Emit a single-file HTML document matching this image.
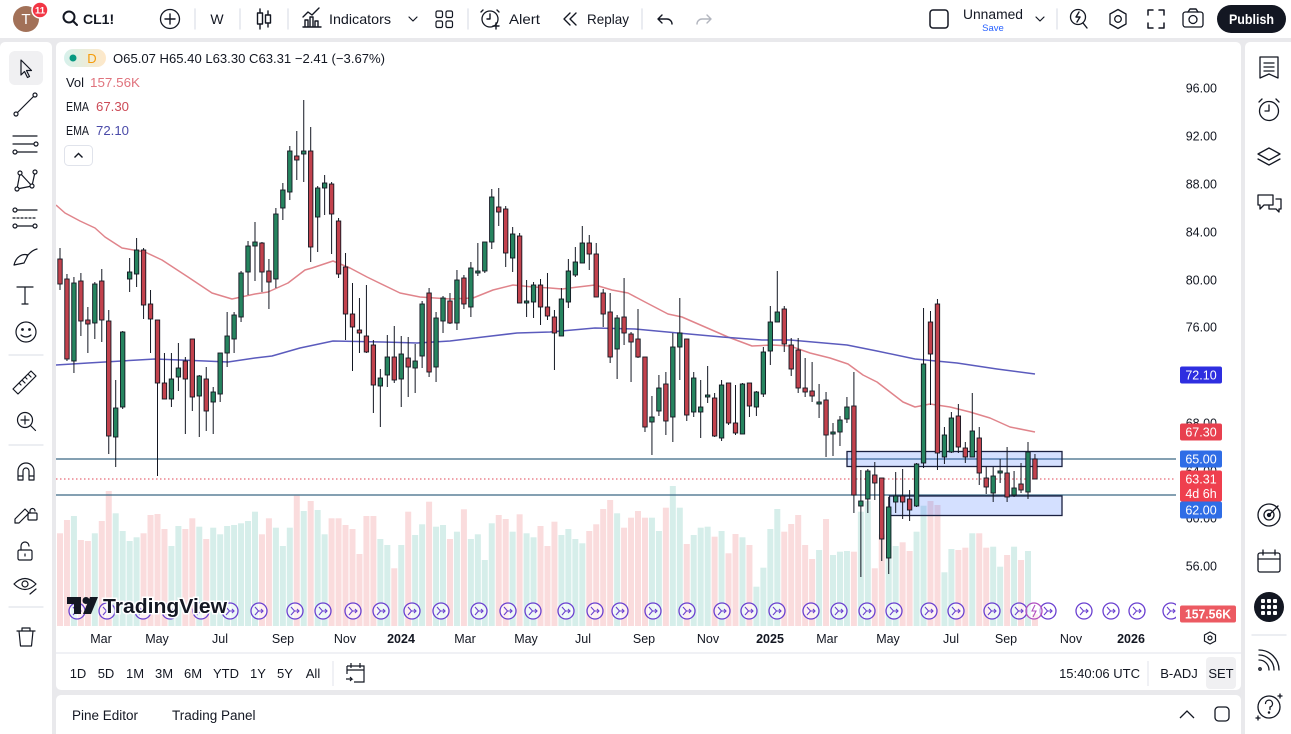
<!DOCTYPE html>
<html><head><meta charset="utf-8">
<style>
html,body{margin:0;padding:0;width:1291px;height:734px;overflow:hidden;background:#e9e9ec;}
svg{display:block;font-family:"Liberation Sans",sans-serif;}
</style></head><body>
<svg width="1291" height="734" viewBox="0 0 1291 734" xmlns="http://www.w3.org/2000/svg">
<defs>
<linearGradient id="pill" x1="0" x2="1" y1="0" y2="0"><stop offset="0" stop-color="#d6f1ec"/><stop offset="1" stop-color="#ffe8c8"/></linearGradient>
<clipPath id="plot"><rect x="56" y="42" width="1120" height="584"/></clipPath>
</defs>
<rect width="1291" height="734" fill="#e9e9ec"/>
<!-- panels -->
<rect x="0" y="0" width="1291" height="38" fill="#fff"/>
<rect x="0" y="42" width="52" height="700" rx="5" fill="#fff"/>
<rect x="56" y="42" width="1185" height="648" rx="5" fill="#fff"/>
<rect x="56" y="695" width="1185" height="50" rx="5" fill="#fff"/>
<rect x="1245" y="42" width="50" height="700" rx="5" fill="#fff"/>

<!-- ===== TOP BAR ===== -->
<g fill="none" stroke="#131722" stroke-width="1.4" stroke-linecap="round" stroke-linejoin="round">
<circle cx="26" cy="19" r="13" fill="#a27158" stroke="none"/>
<circle cx="40" cy="10" r="8" fill="#f23645" stroke="#fff" stroke-width="1.5"/>
<circle cx="69" cy="17" r="5.5" stroke-width="2"/><line x1="73" y1="21" x2="77" y2="25" stroke-width="2"/>
<circle cx="170" cy="19" r="9.5" stroke-width="1.3"/><line x1="165" y1="19" x2="175" y2="19"/><line x1="170" y1="14" x2="170" y2="24"/>
<line x1="195" y1="9" x2="195" y2="29" stroke="#e0e3eb"/>
<line x1="240" y1="9" x2="240" y2="29" stroke="#e0e3eb"/>
<line x1="260" y1="9" x2="260" y2="29"/><rect x="257.5" y="13" width="5" height="11" fill="#fff"/>
<line x1="268" y1="11" x2="268" y2="27"/><rect x="265.5" y="15" width="5" height="8" fill="#fff"/>
<line x1="288" y1="9" x2="288" y2="29" stroke="#e0e3eb"/>
<path d="M303,27 h18 M305,26 v-6 h3 v6 M310,26 v-9 h3 v9 M315,26 v-5 h3 v5 M303,17 l5,-5 l4,3 l7,-7"/>
<path d="M409,17 l4,4 l4,-4" stroke-width="1.2"/>
<rect x="436" y="11" width="6.5" height="6.5" rx="1.5" stroke-width="1.2"/><rect x="446" y="11" width="6.5" height="6.5" rx="1.5" stroke-width="1.2"/>
<rect x="436" y="21" width="6.5" height="6.5" rx="1.5" stroke-width="1.2"/><rect x="446" y="21" width="6.5" height="6.5" rx="1.5" stroke-width="1.2"/>
<line x1="468" y1="9" x2="468" y2="29" stroke="#e0e3eb"/>
<circle cx="490" cy="19" r="8" stroke-width="1.3"/><path d="M490,14 v5 h-3 M483,10 l-2,2 M497,10 l2,2 M493,26 h6 M496,23 v6"/>
<path d="M576,13 l-6,6 l6,6 M570,13 l-6,6 l6,6"/>
<line x1="642" y1="9" x2="642" y2="29" stroke="#e0e3eb"/>
<path d="M662,15 l-4,4 l4,4 M658,19 h9 a5,5 0 0 1 5,5"/>
<path d="M707,15 l4,4 l-4,4 M711,19 h-9 a5,5 0 0 0 -5,5" stroke="#b2b5be"/>
<rect x="930" y="10" width="18" height="18" rx="3" stroke-width="1.5"/>
<path d="M1036,17 l4,4 l4,-4" stroke-width="1.2"/>
<line x1="1057" y1="9" x2="1057" y2="29" stroke="#e0e3eb"/>
<circle cx="1078" cy="17" r="7.5" stroke-width="1.3"/><path d="M1079,12 l-3,5 h4 l-3,5 M1083,23 l4,5"/>
<path d="M1118,9.5 l8,4.5 v10 l-8,4.5 l-8,-4.5 v-10 z" stroke-width="1.3"/><circle cx="1118" cy="19" r="3.3" stroke-width="1.3"/>
<path d="M1148,15 v-5 h5 M1159,10 h5 v5 M1164,23 v5 h-5 M1153,28 h-5 v-5" stroke-width="1.5"/>
<rect x="1183" y="12" width="20" height="15" rx="2.5" stroke-width="1.3"/><circle cx="1193" cy="19.5" r="4" stroke-width="1.3"/><path d="M1188,12 l2,-3 h6 l2,3"/>
</g>
<text x="26" y="24" fill="#fff" font-size="15" text-anchor="middle">T</text>
<text x="40" y="13.5" fill="#fff" font-size="9.5" text-anchor="middle" font-weight="bold">11</text>
<text x="83" y="24" fill="#131722" font-size="14" font-weight="bold">CL1!</text>
<text x="217" y="24" fill="#131722" font-size="14" text-anchor="middle">W</text>
<text x="329" y="24" fill="#131722" font-size="14" textLength="62" lengthAdjust="spacingAndGlyphs">Indicators</text>
<text x="509" y="24" fill="#131722" font-size="14" textLength="31" lengthAdjust="spacingAndGlyphs">Alert</text>
<text x="587" y="24" fill="#131722" font-size="14" textLength="42" lengthAdjust="spacingAndGlyphs">Replay</text>
<text x="963" y="19" fill="#131722" font-size="13.5" textLength="60" lengthAdjust="spacingAndGlyphs">Unnamed</text>
<text x="993" y="31" fill="#2962ff" font-size="9.5" text-anchor="middle">Save</text>
<rect x="1217" y="5" width="69" height="28" rx="14" fill="#131722"/>
<text x="1251.5" y="24" fill="#fff" font-size="14" font-weight="bold" text-anchor="middle" textLength="45" lengthAdjust="spacingAndGlyphs">Publish</text>

<!-- ===== LEFT TOOLBAR ===== -->
<rect x="9" y="51" width="34" height="34" rx="6" fill="#f0f0f2"/>
<g fill="none" stroke="#131722" stroke-width="1.2" stroke-linecap="round" stroke-linejoin="round">
<path d="M21,60 l0,15 l3.5,-3.5 l3,6 l2,-1 l-3,-6 l5,0 z"/>
<line x1="17" y1="113" x2="34" y2="96"/><circle cx="16" cy="114" r="2" fill="#fff"/><circle cx="35" cy="95" r="2" fill="#fff"/>
<line x1="13" y1="136" x2="37" y2="136"/><line x1="13" y1="144" x2="34" y2="144"/><line x1="13" y1="152" x2="37" y2="152"/><circle cx="36" cy="144" r="2" fill="#fff"/><circle cx="15" cy="152" r="2" fill="#fff"/>
<path d="M17,189 l3,-16 l12,13 l3,-14 M20,173 l12,13 M17,189 l15,-3"/><circle cx="17" cy="189" r="2" fill="#fff"/><circle cx="20" cy="173" r="2" fill="#fff"/><circle cx="32" cy="186" r="2" fill="#fff"/><circle cx="35" cy="172" r="2" fill="#fff"/>
<line x1="13" y1="210" x2="37" y2="210"/><line x1="13" y1="218" x2="37" y2="218" stroke-dasharray="2 2"/><line x1="13" y1="226" x2="37" y2="226"/><circle cx="15" cy="210" r="2" fill="#fff"/><circle cx="15" cy="226" r="2" fill="#fff"/><circle cx="35" cy="226" r="2" fill="#fff"/>
<path d="M14,265 c2,-8 8,-12 14,-10 l-4,8 z M27,256 c2,-2 5,-6 10,-7"/>
<path d="M17,287 h16 M25,287 v17 M22,304 h6"/>
<circle cx="26" cy="332" r="10"/><circle cx="22.5" cy="329.5" r="0.8" fill="#131722"/><circle cx="29.5" cy="329.5" r="0.8" fill="#131722"/><path d="M21,335 q5,4 10,0"/>
<line x1="9" y1="355" x2="43" y2="355" stroke="#e0e3eb"/>
<path d="M13,389 l18,-18 l5,5 l-18,18 z M19,383 l2,2 M22,380 l3,3 M25,377 l2,2 M28,374 l3,3"/>
<circle cx="25" cy="420" r="7.5"/><path d="M30.5,425.5 l5,5 M25,416 v8 M21,420 h8"/>
<line x1="9" y1="445" x2="43" y2="445" stroke="#e0e3eb"/>
<path d="M18,480 v-9 a8,8 0 0 1 16,0 v9 h-5 v-9 a3,3 0 0 0 -6,0 v9 z M18,476 h5 M29,476 h5"/>
<path d="M15,519 l10,-10 l4,4 l-10,10 h-4 z"/><rect x="28" y="513" width="9" height="7" rx="1"/><path d="M30,513 v-2 a2.5,2.5 0 0 1 5,0"/>
<rect x="18" y="550" width="14" height="10" rx="1.5"/><path d="M21,550 v-4 a4,4 0 0 1 8,0"/><line x1="25" y1="554" x2="25" y2="556"/>
<path d="M14,584 q11,-11 22,0 q-11,11 -22,0 z"/><circle cx="25" cy="584" r="3"/><path d="M30,594 l6,-5"/>
<line x1="9" y1="607" x2="43" y2="607" stroke="#e0e3eb"/>
<path d="M17,631 h18 M22,631 v-3 h8 v3 M19,631 l1.5,15 h11 l1.5,-15"/>
</g>

<!-- ===== RIGHT TOOLBAR ===== -->
<g fill="none" stroke="#131722" stroke-width="1.3" stroke-linecap="round" stroke-linejoin="round">
<path d="M1260,57 h18 v21 l-9,-4 l-9,4 z M1264,63 h10 M1264,67 h10 M1264,71 h10"/>
<circle cx="1269" cy="111" r="9.5"/><path d="M1269,105 v6 h-4 M1259,102 l3,-3 M1279,102 l-3,-3"/>
<path d="M1269,148 l11,6 l-11,6 l-11,-6 z M1258,159 l11,6 l11,-6"/>
<path d="M1258,195 h15 v10 h-9 l-4,4 v-4 h-2 z M1276,199 h5 v10 h-2 v3 l-3,-3 h-7 v-3"/>
<circle cx="1269" cy="515" r="11"/><circle cx="1269" cy="515" r="5"/><circle cx="1269" cy="515" r="1.5" fill="#131722"/><path d="M1269,515 l9,-9"/>
<rect x="1258" y="553" width="22" height="19" rx="2"/><path d="M1258,559 h22 M1263,550 v5 M1275,550 v5"/>
<line x1="1252" y1="635" x2="1286" y2="635" stroke="#e0e3eb"/>
<path d="M1259,660 a10,10 0 0 1 10,10 M1259,655 a15,15 0 0 1 15,15 M1259,650 a20,20 0 0 1 20,20"/><circle cx="1260" cy="669" r="1.2"/>
<circle cx="1269" cy="707" r="11"/><path d="M1265.5,703.5 a3.5,3.5 0 1 1 4.5,3.5 v2.5"/><circle cx="1269" cy="712.5" r="0.6"/>
<path d="M1280,694 v4 M1278,696 h4 M1258,716 v4 M1256,718 h4"/>
</g>
<circle cx="1269" cy="607" r="15" fill="#131722"/>
<g fill="#fff"><rect x="1261" y="599" width="4" height="4" rx="1"/><rect x="1267" y="599" width="4" height="4" rx="1"/><rect x="1273" y="599" width="4" height="4" rx="1"/>
<rect x="1261" y="605" width="4" height="4" rx="1"/><rect x="1267" y="605" width="4" height="4" rx="1"/><rect x="1273" y="605" width="4" height="4" rx="1"/>
<rect x="1261" y="611" width="4" height="4" rx="1"/><rect x="1267" y="611" width="4" height="4" rx="1"/><rect x="1273" y="611" width="4" height="4" rx="1"/></g>

<!-- ===== CHART ===== -->
<g clip-path="url(#plot)">
<g id="vol"></g>
<line x1="56" y1="459" x2="1180" y2="459" stroke="#3b6884" stroke-width="1.2"/>
<line x1="56" y1="495" x2="1180" y2="495" stroke="#3b6884" stroke-width="1.2"/>
<line x1="56" y1="479" x2="1180" y2="479" stroke="#e04555" stroke-width="1" stroke-dasharray="1.5 2.5"/>
<rect x="847" y="451.5" width="215" height="15" fill="#2962ff" fill-opacity="0.2" stroke="#1a2040" stroke-width="1.3"/>
<rect x="889.5" y="496" width="172.5" height="19.5" fill="#2962ff" fill-opacity="0.2" stroke="#1a2040" stroke-width="1.3"/>
<polyline fill="none" stroke="#e0848b" stroke-width="1.5" stroke-linejoin="round" points="56,205 65,213 80,221 95,228 105,237 122,248 145,252 162,260 188,277 212,293 232,299 255,294 268,292 288,283 305,270 312,268 333,261 350,268 367,277 400,293 420,297 450,299 473,298 493,290 513,285 533,287 550,288 562,289 578,287 595,285 612,290 628,293 645,302 668,314 682,317 705,327 728,337 752,346 772,345 790,346 810,353 830,358 848,364 863,375 877,382 890,392 903,402 915,407 930,404 950,407 970,412 990,418 1010,427 1035,432"/>
<polyline fill="none" stroke="#5b5bbd" stroke-width="1.5" stroke-linejoin="round" points="56,365 88,363 138,360 155,359 205,361 228,362 255,358 272,356 300,348 333,341 383,342 417,343 450,341 483,337 517,333 550,332 595,328 635,329 678,333 722,337 762,340 790,340 847,345 877,351 915,359 957,363 997,369 1035,374"/>
<g id="cdl"></g>
<g id="circ"></g>
</g>

<!-- TradingView logo -->
<g>
<path d="M67,597 h14 v17 h-7 v-10 h-7 z" fill="#131722"/>
<circle cx="86" cy="600.5" r="3.5" fill="#131722"/>
<path d="M90,597 h8 l-7,17 h-8 z" fill="#131722"/>
<text x="103" y="613" font-size="20" font-weight="bold" fill="#131722" textLength="124" lengthAdjust="spacingAndGlyphs" stroke="#fff" stroke-width="3" paint-order="stroke">TradingView</text>
</g>

<!-- Legend -->
<rect x="64" y="49" width="42" height="18" rx="9" fill="url(#pill)"/>
<circle cx="73" cy="58" r="3.5" fill="#089981"/>
<text x="92" y="63" font-size="13" fill="#f59b0a" text-anchor="middle">D</text>
<text x="113" y="63" font-size="13" fill="#131722" textLength="272" lengthAdjust="spacingAndGlyphs">O65.07 H65.40 L63.30 C63.31 −2.41 (−3.67%)</text>
<text x="66" y="87" font-size="13" fill="#131722" textLength="18" lengthAdjust="spacingAndGlyphs">Vol</text>
<text x="90" y="87" font-size="13" fill="#e0737d" textLength="50" lengthAdjust="spacingAndGlyphs">157.56K</text>
<text x="66" y="111" font-size="13" fill="#131722" textLength="23" lengthAdjust="spacingAndGlyphs">EMA</text>
<text x="96" y="111" font-size="13" fill="#cc4b57" textLength="33" lengthAdjust="spacingAndGlyphs">67.30</text>
<text x="66" y="135" font-size="13" fill="#131722" textLength="23" lengthAdjust="spacingAndGlyphs">EMA</text>
<text x="96" y="135" font-size="13" fill="#4a4aa8" textLength="33" lengthAdjust="spacingAndGlyphs">72.10</text>
<rect x="64.5" y="145.5" width="28" height="20" rx="4" fill="#fff" stroke="#e0e3eb"/>
<path d="M74.5,157.5 l4,-4 l4,4" fill="none" stroke="#131722" stroke-width="1.4"/>

<!-- Price axis -->
<g font-size="12.5" fill="#131722" text-anchor="end">
<text x="1217" y="92.5">96.00</text>
<text x="1217" y="140.5">92.00</text>
<text x="1217" y="188.5">88.00</text>
<text x="1217" y="236.5">84.00</text>
<text x="1217" y="284.5">80.00</text>
<text x="1217" y="331.5">76.00</text>
<text x="1217" y="379.5">72.00</text>
<text x="1217" y="427.5">68.00</text>
<text x="1217" y="475.5">64.00</text>
<text x="1217" y="522.5">60.00</text>
<text x="1217" y="570.5">56.00</text>
</g>
<g font-size="12.5" fill="#fff" text-anchor="middle">
<rect x="1180" y="366.5" width="42" height="17" rx="2" fill="#2e2ee0"/><text x="1201" y="379.5">72.10</text>
<rect x="1180" y="423.5" width="42" height="17" rx="2" fill="#e8404f"/><text x="1201" y="436.5">67.30</text>
<rect x="1180" y="450.5" width="42" height="17" rx="2" fill="#2f6de6"/><text x="1201" y="463.5">65.00</text>
<rect x="1180" y="470.5" width="42" height="31" rx="2" fill="#ef3f4e"/><text x="1201" y="483.5">63.31</text><text x="1201" y="498">4d 6h</text>
<rect x="1180" y="501.5" width="42" height="17" rx="2" fill="#2f6de6"/><text x="1201" y="514.5">62.00</text>
<rect x="1180" y="605.5" width="56" height="17" rx="2" fill="#ec5a62"/><text x="1208" y="618.5" font-weight="bold" textLength="46" lengthAdjust="spacingAndGlyphs">157.56K</text>
</g>

<!-- Time axis -->
<g font-size="12.5" fill="#131722" text-anchor="middle">
<text x="101" y="643">Mar</text><text x="157" y="643">May</text><text x="220" y="643">Jul</text><text x="283" y="643">Sep</text><text x="345" y="643">Nov</text>
<text x="401" y="643" font-weight="bold">2024</text>
<text x="465" y="643">Mar</text><text x="526" y="643">May</text><text x="583" y="643">Jul</text><text x="644" y="643">Sep</text><text x="708" y="643">Nov</text>
<text x="770" y="643" font-weight="bold">2025</text>
<text x="827" y="643">Mar</text><text x="888" y="643">May</text><text x="951" y="643">Jul</text><text x="1006" y="643">Sep</text><text x="1071" y="643">Nov</text>
<text x="1131" y="643" font-weight="bold">2026</text>
</g>
<path d="M1210,632 l5.5,3 v6 l-5.5,3 l-5.5,-3 v-6 z" fill="none" stroke="#131722" stroke-width="1.2"/><circle cx="1210" cy="638" r="2" fill="none" stroke="#131722" stroke-width="1.2"/>
<line x1="56" y1="653" x2="1241" y2="653" stroke="#e0e3eb"/>

<!-- Range bar -->
<g font-size="13" fill="#131722" text-anchor="middle">
<text x="78" y="678">1D</text><text x="106" y="678">5D</text><text x="135" y="678">1M</text><text x="164" y="678">3M</text><text x="193" y="678">6M</text><text x="226" y="678">YTD</text><text x="258" y="678">1Y</text><text x="285" y="678">5Y</text><text x="313" y="678">All</text>
</g>
<line x1="333" y1="661" x2="333" y2="686" stroke="#e0e3eb"/>
<g fill="none" stroke="#131722" stroke-width="1.2"><path d="M347,666 h17 v16 h-10 M347,666 v8 M347,670 h17 M351,663 v5 M360,663 v5 M346,679 h6 l-2,-2 M352,679 l-2,2"/></g>
<rect x="1206" y="657" width="30" height="32" rx="4" fill="#f0f0f2"/>
<g font-size="13" fill="#131722">
<text x="1140" y="678" text-anchor="end">15:40:06 UTC</text>
<text x="1179" y="678" text-anchor="middle">B-ADJ</text>
<text x="1221" y="678" text-anchor="middle">SET</text>
</g>
<line x1="1148" y1="661" x2="1148" y2="686" stroke="#e0e3eb"/>

<!-- Bottom panel -->
<g font-size="13.5" fill="#131722">
<text x="72" y="720">Pine Editor</text>
<text x="172" y="720">Trading Panel</text>
</g>
<path d="M1180,718 l7,-7 l7,7" fill="none" stroke="#131722" stroke-width="1.3"/>
<rect x="1215" y="707" width="14" height="14" rx="3.5" fill="none" stroke="#131722" stroke-width="1.3"/>

<script><![CDATA[
(function(){
var D=[
[259,284,248,290,0],[279,359,274,361,0],[283,361,277,373,1],[281,321,273,336,0],[320,324,307,353,0],[284,323,282,339,1],[281,320,269,342,0],[321,436,310,454,0],[408,437,380,467,1],[332,407,331,409,1],
[272,279,258,292,1],[250,274,238,287,1],[250,305,248,319,0],[304,319,290,353,0],[320,383,320,476,0],[383,399,353,399,0],[379,399,353,407,1],[368,377,343,391,1],[361,379,357,434,0],[339,397,339,411,0],
[376,396,375,437,1],[379,411,367,431,0],[392,402,387,434,1],[353,394,353,402,1],[336,353,312,367,1],[315,339,312,353,1],[273,317,271,322,1],[246,272,241,295,1],[242,246,222,281,1],[243,272,242,292,0],
[271,282,259,309,0],[214,279,208,288,1],[190,208,183,220,1],[151,192,146,200,1],[156,160,131,180,0],[151,154,100,182,1],[151,247,127,262,0],[188,217,186,252,1],[183,188,175,215,1],[184,214,182,254,0],
[221,274,218,278,0],[267,314,253,340,0],[314,327,283,371,0],[330,333,298,353,0],[336,352,285,353,0],[345,385,340,413,0],[378,386,369,427,1],[357,375,335,387,1],[357,380,326,383,0],[354,379,336,407,1],
[358,367,337,397,0],[361,368,344,393,1],[304,356,301,368,1],[293,372,288,377,0],[318,367,312,382,1],[298,321,296,333,1],[301,323,293,324,0],[280,323,270,330,1],[278,304,275,309,0],[268,307,262,317,1],
[271,273,243,276,1],[242,271,242,273,1],[197,242,189,249,1],[207,212,188,226,0],[209,253,206,267,0],[234,258,227,272,1],[236,303,233,303,0],[301,303,280,317,1],[285,302,282,318,1],[285,307,279,325,0],
[307,316,273,320,0],[317,333,310,370,0],[299,336,288,336,1],[271,302,259,308,1],[262,275,247,277,1],[243,263,226,263,1],[243,254,235,270,0],[254,297,243,297,0],[293,314,289,327,0],[312,357,293,363,0],
[318,349,315,379,1],[317,333,278,345,0],[334,342,332,382,0],[339,357,309,358,0],[357,427,357,432,0],[417,422,396,455,1],[388,411,375,416,1],[384,421,372,435,0],[347,417,333,442,1],[333,347,298,380,1],
[339,415,339,421,0],[378,412,372,417,1],[407,412,380,438,1],[395,397,366,403,1],[398,436,393,437,0],[385,438,380,441,1],[383,423,383,425,0],[423,433,385,435,0],[384,434,383,434,1],[383,406,383,417,0],
[392,407,391,416,1],[352,394,347,397,1],[322,351,306,365,1],[312,322,271,322,1],[309,344,306,352,0],[345,369,338,376,0],[350,388,338,393,0],[388,392,358,397,0],[391,396,362,402,0],[402,404,384,418,1],
[400,435,392,457,0],[432,434,423,456,1],[420,432,416,446,1],[407,419,397,423,1],[406,495,372,513,0],[501,506,470,577,1],[471,499,469,513,1],[475,483,462,500,0],[478,539,478,561,0],[507,558,497,574,1],
[496,502,472,513,1],[496,502,469,519,0],[499,510,490,521,0],[464,506,463,507,1],[364,463,308,468,1],[322,354,311,405,0],[304,453,299,470,0],[435,457,427,464,1],[418,452,412,453,1],[416,447,404,453,0],
[448,457,442,463,0],[431,457,393,457,1],[438,473,427,485,0],[478,487,467,494,0],[476,493,467,502,1],[471,473,459,483,1],[473,497,447,502,0],[488,495,471,497,1],[484,490,463,493,0],[452,492,442,499,1],
[459,479,454,479,0]];
var V=[145,105,93,165,168,145,108,18,85,138,168,157,145,90,87,132,183,123,132,100,125,162,128,148,123,120,115,108,80,148,100,128,183,128,32,78,48,75,148,100,100,120,132,207,93,93,162,180,250,180,80,150,118,50,125,120,162,140,73,162,148,225,115,90,102,140,88,145,157,123,183,
110,150,132,162,175,138,118,72,45,85,128,98,78,98,98,138,68,3,68,177,150,128,125,155,138,205,147,157,180,305,248,132,72,140,117,90,180,222,195,102,210,200,198,200,80,48,250,148,65,183,172,198,140,62,48,60,262,192,195,188,145,145,188,185,245,210,185,225,198,387];
var vs='',cs='';
for(var i=0;i<D.length;i++){
 var x=60+i*6.964, d=D[i], g=d[4];
 var vt=485+(V[i]||300)/3;
 vs+='<rect x="'+(x-3).toFixed(2)+'" y="'+vt.toFixed(1)+'" width="6" height="'+(626-vt).toFixed(1)+'" fill="'+(g?'#d6eeea':'#fadcdd')+'"/>';
 cs+='<line x1="'+x.toFixed(2)+'" y1="'+d[2]+'" x2="'+x.toFixed(2)+'" y2="'+d[3]+'" stroke="#131722" stroke-width="1"/>';
 var h=Math.max(d[1]-d[0],1.2);
 cs+='<rect x="'+(x-2.2).toFixed(2)+'" y="'+d[0]+'" width="4.4" height="'+h+'" fill="'+(g?'#26845f':'#c2424d')+'" stroke="#131722" stroke-width="0.9"/>';
}
document.getElementById('vol').insertAdjacentHTML('beforeend',vs);
document.getElementById('cdl').insertAdjacentHTML('beforeend',cs);
var P=[77,107,143,170,201,230,259,295,323,353,381,412,441,479,508,533,566,595,620,653,687,722,749,777,811,839,867,894,929,956,992,1019,1048,1084,1111,1137,1171];
var s='';
for(var j=0;j<P.length;j++){
 s+='<circle cx="'+P[j]+'" cy="611" r="8" fill="#ffffff" fill-opacity="0.55" stroke="#6a40d0" stroke-width="1.3"/>';
 s+='<path d="M'+(P[j]-4)+',607 l3.5,4 h4.5 M'+(P[j]+2)+',609 l2,2 l-2,2 M'+(P[j]-4)+',615 l3.5,-4" fill="none" stroke="#6a40d0" stroke-width="1.1"/>';
}
s+='<circle cx="1034" cy="611" r="8" fill="#ffffff" fill-opacity="0.55" stroke="#b04fc0" stroke-width="1.3"/><path d="M1035,605 l-3,6 h4 l-3,6" fill="none" stroke="#b04fc0" stroke-width="1.1"/>';
document.getElementById('circ').insertAdjacentHTML('beforeend',s);
})();
]]></script>
</svg>
</body></html>
